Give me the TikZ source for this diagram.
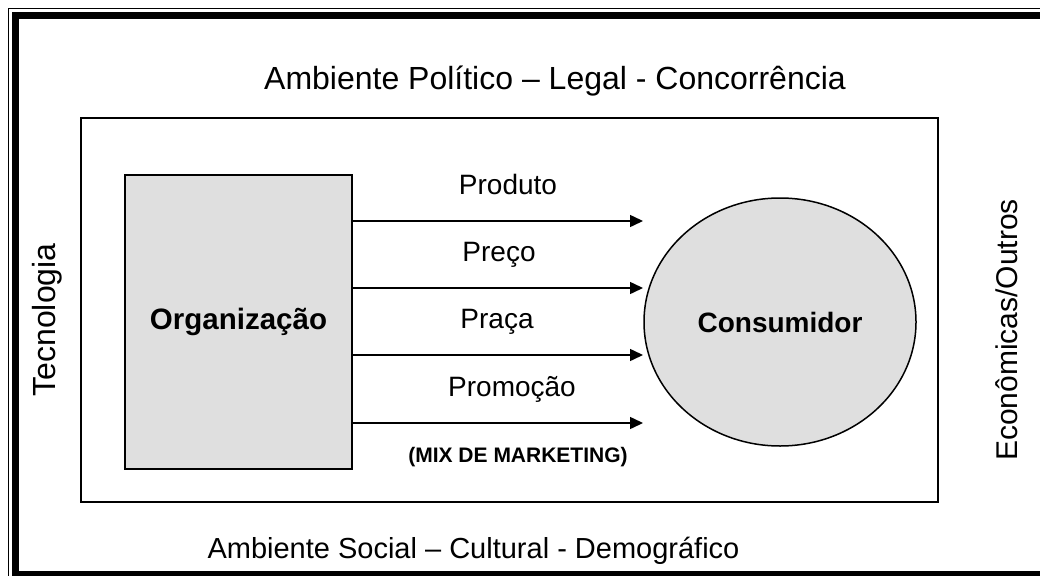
\documentclass[tikz,border=0pt]{standalone}
\usepackage{fontspec}
\setmainfont{Liberation Sans}
\usetikzlibrary{arrows.meta,shapes.geometric}

\tikzset{
  graybox/.style={draw=black,line width=1.5pt,fill=gray!25!white,inner sep=0pt},
  mixarrow/.style={line width=1.5pt,-{Triangle[length=13pt,width=12pt]}},
  envtext/.style={font=\fontsize{32}{36}\selectfont,inner sep=0pt},
  ptext/.style={font=\fontsize{28}{32}\selectfont,inner sep=0pt,anchor=base},
}

\begin{document}
\begin{tikzpicture}[x=1pt,y=-1pt]
    \useasboundingbox (0,0) rectangle (1040,575);
    \clip (0,0) rectangle (1040,575);

    % double frame
    \draw[line width=1.5pt] (8.5,8.5) rectangle (1080,600);
    \draw[line width=7pt] (15.5,15.5) rectangle (1060,574);

    % environment
    \draw[line width=1.5pt] (81,118) rectangle (938,502);
    \node[envtext,anchor=base] (politico) at (555,89.5) {Ambiente Político – Legal - Concorrência};
    \node[envtext,anchor=base,font=\fontsize{29}{33}\selectfont] (social) at (473.5,558) {Ambiente Social – Cultural - Demográfico};
    \node[envtext,anchor=base,rotate=90] (tecno) at (55,320) {Tecnologia};
    \node[envtext,anchor=base,rotate=90,font=\fontsize{30}{34}\selectfont] (econ) at (1017,330) {Econômicas/Outros};

    \node[graybox,minimum width=227pt,minimum height=294pt,font=\bfseries\fontsize{29.5}{33}\selectfont] (org) at (238.5,322) {Organização};
    \node[graybox,ellipse,minimum width=272pt,minimum height=248pt,font=\bfseries\fontsize{28}{31}\selectfont] (cons) at (780,322) {\raisebox{-5pt}{Consumidor}};

    \coordinate (p1) at (643,221);
    \coordinate (p2) at (643,288);
    \coordinate (p3) at (643,355);
    \coordinate (p4) at (643,423);
    \foreach \p in {p1,p2,p3,p4}
        \draw[mixarrow] (org.east |- \p) -- (\p);

    \node[ptext] (produto) at (508,194) {Produto};
    \node[ptext] (preco) at (499,261) {Preço};
    \node[ptext] (praca) at (497,328) {Praça};
    \node[ptext] (promo) at (512,396) {Promoção};
    \node[ptext,font=\bfseries\fontsize{21}{24}\selectfont] (mix) at (518,462) {(MIX DE MARKETING)};
\end{tikzpicture}
\end{document}
